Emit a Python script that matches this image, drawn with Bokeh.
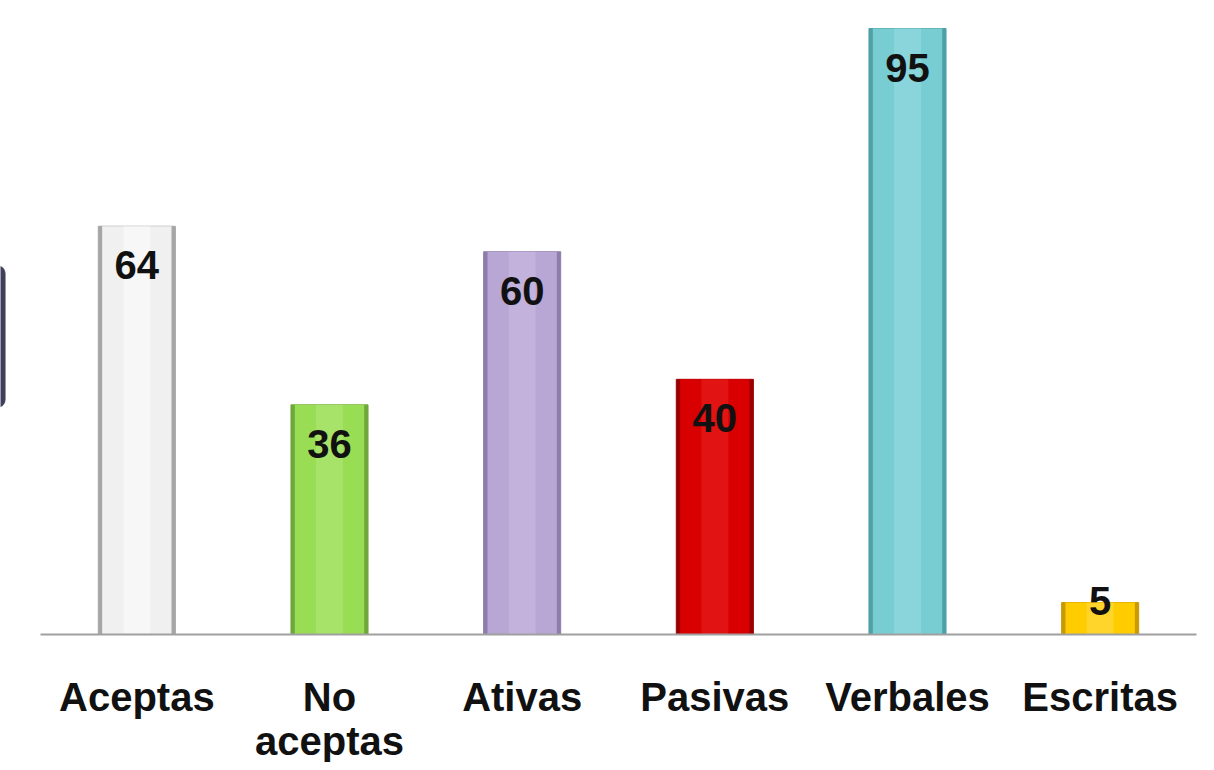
from bokeh.plotting import figure
from bokeh.models import Range1d, ColumnDataSource, BoxAnnotation
from bokeh.core.properties import value
from bokeh.embed import file_html
from bokeh.resources import INLINE

categories = ["Aceptas", "No\naceptas", "Ativas", "Pasivas", "Verbales", "Escritas"]
values = [64, 36, 60, 40, 95, 5]
colors = ["#f0f0f0", "#99dd55", "#b8a6d4", "#d80000", "#78cdd3", "#ffcc00"]
edge_colors = ["#a6a6a6", "#6fa83a", "#8e7cab", "#9a0000", "#4f9fa6", "#c99a00"]
highlight = ["#ffffff", "#b5ec80", "#cfc2e6", "#ee2a2a", "#9ee0e4", "#ffe060"]

# layout constants (pixels)
W, H = 1206, 762
LEFT, RIGHT = 40, 10          # plot area margins
BASE = 634                    # baseline pixel row
TOP95 = 28                    # pixel row of the tallest bar top
n = len(categories)
px_per_cat = (W - LEFT - RIGHT) / n
px_per_unit = (BASE - TOP95) / max(values)

xpos = [i + 0.5 for i in range(n)]
label_y = [v - 39 / px_per_unit if v > 12 else v + 0.3 for v in values]
cat_label_y = -40 / px_per_unit

src = ColumnDataSource(dict(x=xpos, cat=categories, val=values, col=colors, edge=edge_colors,
                            hi=highlight, ly=label_y, txt=[str(v) for v in values],
                            cy=[cat_label_y] * n))

p = figure(width=W, height=H,
           x_range=Range1d(-LEFT / px_per_cat, n + RIGHT / px_per_cat),
           y_range=Range1d(-(H - BASE) / px_per_unit, BASE / px_per_unit),
           output_backend="svg", toolbar_location=None,
           min_border_left=0, min_border_right=0, min_border_top=0, min_border_bottom=0)

p.vbar(x="x", top="val", width=0.4, fill_color="edge", line_color="edge", line_width=1, source=src)
p.vbar(x="x", top="val", width=0.36, fill_color="col", line_color=None, source=src)
p.vbar(x="x", top="val", width=0.14, fill_color="hi", fill_alpha=0.45, line_color=None, source=src)

# baseline (axis line)
p.segment(x0=[0], y0=[0], x1=[n], y1=[0], line_color="#a0a0a0", line_width=2)

p.text(x="x", y="ly", text="txt", source=src, text_align="center", text_baseline="middle",
       text_font=value("Liberation Sans"), text_font_style="bold", text_font_size="40px",
       text_color="#111111")

p.text(x="x", y="cy", text="cat", source=src, text_align="center", text_baseline="top",
       text_font=value("Liberation Sans"), text_font_style="bold", text_font_size="40px",
       text_color="#111111", text_line_height=1.0)

# partial dark panel at the left edge (slide decoration)
side = BoxAnnotation(left=-0.35, right=-LEFT / px_per_cat + 5 / px_per_cat,
                     top=(BASE - 265) / px_per_unit, bottom=(BASE - 407) / px_per_unit,
                     fill_color="#3f3f5c", fill_alpha=1.0, line_color="#8a8aa0",
                     line_width=1, border_radius=8)
p.add_layout(side)

p.xaxis.visible = False
p.yaxis.visible = False
p.xgrid.visible = False
p.ygrid.visible = False
p.outline_line_color = None
p.background_fill_color = "white"
p.border_fill_color = "white"

open("out.html", "w").write(file_html(p, INLINE))
